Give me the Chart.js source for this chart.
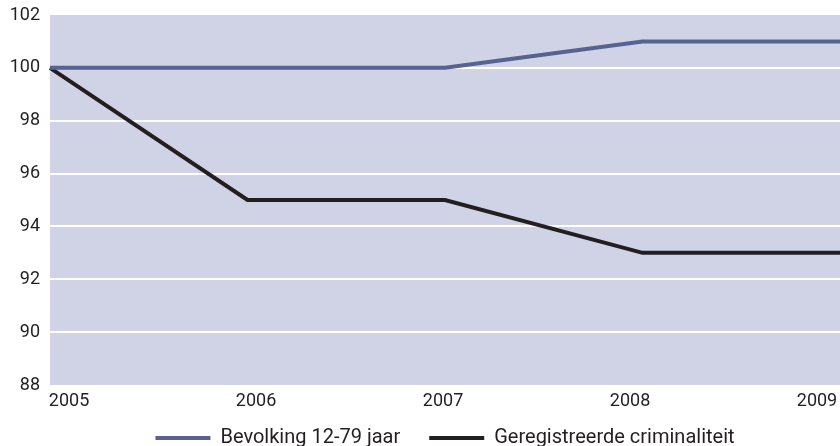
<!DOCTYPE html>
<html>
<head>
<meta charset="utf-8">
<script src="https://cdn.jsdelivr.net/npm/chart.js@4"></script>
<style>
  html, body { margin: 0; padding: 0; background: #fff; }
  #wrap { width: 840px; height: 446px; }
</style>
</head>
<body>
<div id="wrap"><canvas id="grafiek"></canvas></div>
<script>
"use strict";

/* data */
const jaren = [2005, 2006, 2007, 2008, 2009];
const bevolking = [100, 100, 100, 101, 101];
const criminaliteit = [100, 95, 95, 93, 93];
const yTicks = [88, 90, 92, 94, 96, 98, 100, 102];

const labelBevolking = "Bevolking 12-79 jaar";
const labelCriminaliteit = "Geregistreerde criminaliteit";

/* plot background */
const achtergrond = {
    id: "achtergrond",
    beforeDraw(chart){
        const a = chart.chartArea;
        const ctx = chart.ctx;
        ctx.save();
        ctx.fillStyle = "#d0d3e5";
        ctx.fillRect(a.left, a.top, a.right - a.left, a.bottom - a.top);
        ctx.restore();
    }
};

/* legend a bit closer to the year labels */
const legendOmhoog = {
    id: "legendOmhoog",
    afterLayout(chart){
        const l = chart.legend;
        if(!l) return;
        l.top -= 18;
        l.bottom -= 18;
    }
};

const tekst = "#231f20";

new Chart(document.getElementById("grafiek"), {
    type: "line",
    data: {
        labels: jaren.map(String),
        datasets: [
            {
                label: labelBevolking,
                data: bevolking,
                borderColor: "#566292",
                backgroundColor: "#566292",
                borderWidth: 4,
                pointRadius: 0,
                tension: 0
            },
            {
                label: labelCriminaliteit,
                data: criminaliteit,
                borderColor: "#231f20",
                backgroundColor: "#231f20",
                borderWidth: 4,
                pointRadius: 0,
                tension: 0
            }
        ]
    },
    options: {
        responsive: true,
        maintainAspectRatio: false,
        animation: false,
        layout: { padding: { top: 15, left: 0, right: 0, bottom: -30 } },
        plugins: {
            legend: {
                position: "bottom",
                fullSize: false,
                labels: {
                    usePointStyle: true,
                    pointStyle: "line",
                    pointStyleWidth: 55,
                    boxHeight: 20,
                    padding: 29,
                    color: tekst,
                    font: { family: "Roboto", size: 20 }
                }
            },
            tooltip: { enabled: false }
        },
        scales: {
            x: {
                type: "category",
                display: false,
                offset: false
            },
            x2: {
                type: "linear",
                position: "bottom",
                min: 2004.898,
                max: 2009.123,
                grid: { display: false, drawTicks: false },
                border: { display: false },
                afterBuildTicks: function(s){
                    s.ticks = jaren.map(v => ({ value: v }));
                },
                afterFit: function(s){
                    s.height = 32;
                    s.paddingLeft = 0;
                    s.paddingRight = 0;
                },
                ticks: {
                    padding: 6,
                    maxRotation: 0,
                    autoSkip: false,
                    color: tekst,
                    font: { family: "Roboto", size: 18 },
                    callback: v => String(v)
                }
            },
            y: {
                min: 88,
                max: 102,
                afterBuildTicks: function(s){
                    s.ticks = yTicks.map(v => ({ value: v }));
                },
                afterFit: function(s){
                    s.width = 50;
                    s.paddingTop = 0;
                    s.paddingBottom = 0;
                },
                border: { display: false },
                grid: {
                    drawTicks: false,
                    lineWidth: 2,
                    color: c => (c.tick && (c.tick.value === 88 || c.tick.value === 102)) ? "rgba(0,0,0,0)" : "#ffffff"
                },
                ticks: {
                    padding: 10,
                    color: tekst,
                    font: { family: "Roboto", size: 18 }
                }
            }
        }
    },
    plugins: [achtergrond, legendOmhoog]
});
</script>
</body>
</html>
